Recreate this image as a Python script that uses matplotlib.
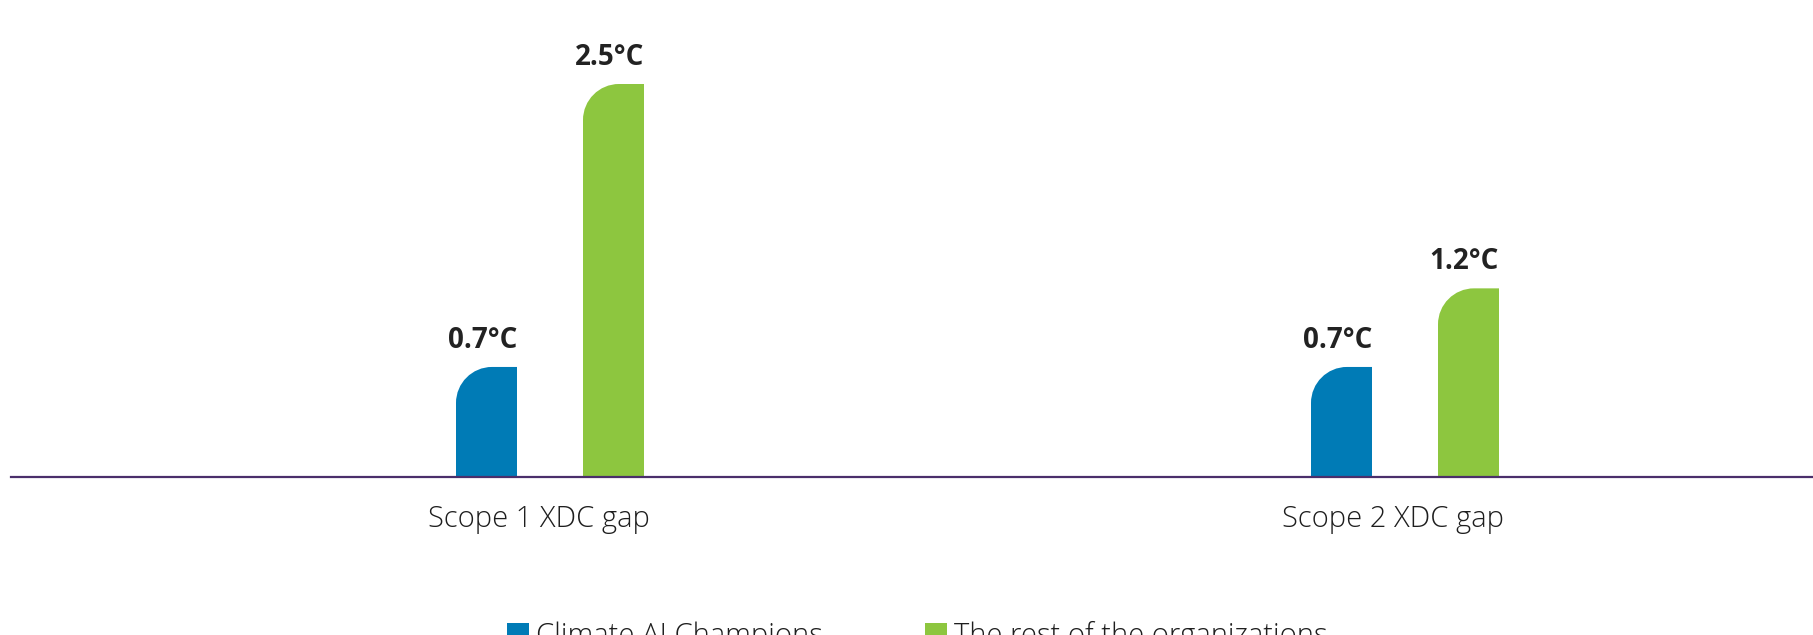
"""Rounded-top bar chart of XDC gaps, Climate AI Champions vs. the rest."""
import matplotlib
matplotlib.use("Agg")
import matplotlib.pyplot as plt
from matplotlib.path import Path
from matplotlib.patches import PathPatch, Patch

categories = ["Scope 1 XDC gap", "Scope 2 XDC gap"]
series_names = ["Climate AI Champions", "The rest of the organizations"]
champions = [0.7, 0.7]
rest = [2.5, 1.2]
value_labels_champions = ["0.7°C", "0.7°C"]
value_labels_rest = ["2.5°C", "1.2°C"]

BLUE = "#007bb6"
GREEN = "#8dc63f"
AXIS = "#4a2f6b"
TEXT = "#222222"
FONT = ["Open Sans", "DejaVu Sans"]

FW, FH = 1813, 635


def rounded_bar_path(ax, x0, width, height, r_px):
    """Path for a bar with only its top-left corner rounded (r_px in pixels)."""
    # convert pixel radius into data units on each axis
    p0 = ax.transData.transform((0, 0))
    p1 = ax.transData.transform((1, 1))
    rx = r_px / (p1[0] - p0[0])
    ry = r_px / (p1[1] - p0[1])
    ry = min(ry, height)
    k = 0.5523  # bezier constant for quarter circle
    verts = [
        (x0, 0),
        (x0 + width, 0),
        (x0 + width, height),
        (x0 + rx, height),
        (x0 + rx - k * rx, height),
        (x0, height - ry + k * ry),
        (x0, height - ry),
        (x0, 0),
    ]
    codes = [Path.MOVETO, Path.LINETO, Path.LINETO, Path.LINETO,
             Path.CURVE4, Path.CURVE4, Path.CURVE4, Path.CLOSEPOLY]
    return Path(verts, codes)


fig = plt.figure(figsize=(FW / 100, FH / 100), dpi=100)
# axes: left edge of baseline at 11px, baseline at y=477px
ax = fig.add_axes([11 / FW, 158 / FH, (FW - 11) / FW, 477 / FH])

px_per_unit = 855.0
ax.set_xlim(-(538.5 - 11) / px_per_unit, 1 + (FW - 1393.5) / px_per_unit)
ax.set_ylim(0, 477 / 157.2)

bar_w = 61 / px_per_unit
off_blue = -52 / px_per_unit
off_green = 75 / px_per_unit
xs = list(range(len(categories)))

for vals, off, color, labels in [
    (champions, off_blue, BLUE, value_labels_champions),
    (rest, off_green, GREEN, value_labels_rest),
]:
    bars = ax.bar([x + off for x in xs], vals, width=bar_w, color=color)
    for b, lab in zip(bars, labels):
        b.set_visible(False)
        path = rounded_bar_path(ax, b.get_x(), b.get_width(), b.get_height(), 36)
        ax.add_patch(PathPatch(path, facecolor=color, edgecolor="none"))
        ax.annotate(lab, (b.get_x() + b.get_width(), b.get_height()),
                    xytext=(0, 12), textcoords="offset pixels",
                    ha="right", va="bottom", fontsize=20, fontweight="bold",
                    family=FONT, color=TEXT)

for side in ["top", "right", "left"]:
    ax.spines[side].set_visible(False)
ax.spines["bottom"].set_color(AXIS)
ax.spines["bottom"].set_linewidth(1.6)
ax.set_yticks([])
ax.set_xticks(xs)
ax.set_xticklabels(categories, fontsize=21, fontweight="light",
                   family=FONT, color="#1e1e1e")
ax.tick_params(axis="x", length=0, pad=20)

handles = [Patch(facecolor=BLUE), Patch(facecolor=GREEN)]
fig.legend(handles, series_names, loc="upper left",
           bbox_to_anchor=(507 / FW, 1 - 621 / FH), ncol=2, frameon=False,
           prop={"family": FONT, "size": 21, "weight": "light"},
           handlelength=0.75, handleheight=0.75, handletextpad=0.25,
           columnspacing=3.5, borderpad=0, borderaxespad=0,
           labelcolor="#1e1e1e")

fig.savefig("out.png", dpi=100)
